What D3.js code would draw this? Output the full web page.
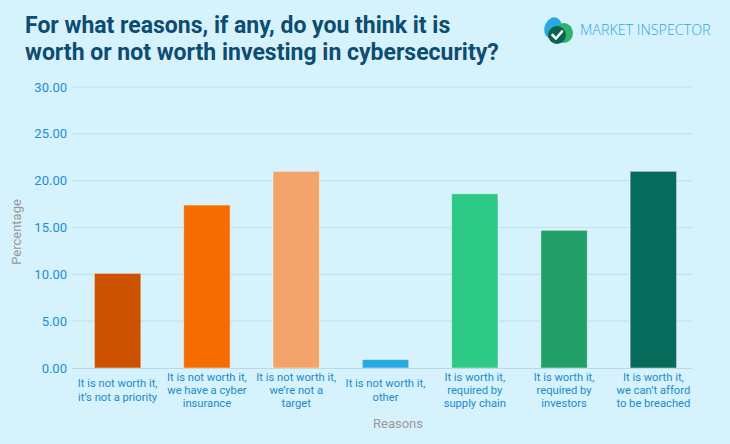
<!DOCTYPE html>
<html><head><meta charset="utf-8">
<script src="https://cdn.jsdelivr.net/npm/d3@7"></script>
<style>
html,body{margin:0;padding:0;background:#D5F2FD;}
svg{display:block;}
</style></head>
<body>
<svg id="chart" width="730" height="444"></svg>
<script>
const categories = [
  ["It is not worth it,", "it’s not a priority"],
  ["It is not worth it,", "we have a cyber", "insurance"],
  ["It is not worth it,", "we’re not a", "target"],
  ["It is not worth it,", "other"],
  ["It is worth it,", "required by", "supply chain"],
  ["It is worth it,", "required by", "investors"],
  ["It is worth it,", "we can’t afford", "to be breached"]
];
const values = [10.1, 17.4, 21.0, 0.9, 18.6, 14.7, 21.0];
const barColors = ["#CC5200", "#F56C00", "#F3A46A", "#29A9E1", "#2DCA85", "#229E69", "#066B5A"];
const yTicks = [0, 5, 10, 15, 20, 25, 30];
const titleLines = ["For what reasons, if any, do you think it is", "worth or not worth investing in cybersecurity?"];

const svg = d3.select("#chart");
svg.append("rect").attr("width", 730).attr("height", 444).attr("fill", "#D5F2FD");

const ids = categories.map((c, i) => i);
const x = d3.scaleBand().domain(ids).range([73, 698]).paddingInner(0.48).paddingOuter(0.24);
const y = d3.scaleLinear().domain([0, 30]).range([368, 87]);
const gridX0 = 72, gridX1 = 692;

// gridlines
svg.append("g").selectAll("line").data(yTicks.filter(t => t > 0)).join("line")
  .attr("x1", gridX0).attr("x2", gridX1)
  .attr("y1", d => y(d)).attr("y2", d => y(d))
  .attr("stroke", "#C1E2EF").attr("stroke-width", 1.2);

// y tick labels
svg.append("g").selectAll("text").data(yTicks).join("text")
  .attr("x", 67).attr("y", d => y(d)).attr("dy", "0.35em")
  .attr("text-anchor", "end")
  .attr("font-family", "Roboto, sans-serif").attr("font-size", 13)
  .attr("fill", "#1B8FD6")
  .text(d => d.toFixed(2));

// bars
svg.append("g").selectAll("rect").data(values).join("rect")
  .attr("x", (d, i) => x(i)).attr("width", x.bandwidth())
  .attr("y", d => y(d)).attr("height", d => y(0) - y(d))
  .attr("fill", (d, i) => barColors[i])
  .attr("stroke", "rgba(255,255,255,0.45)").attr("stroke-width", 1);

// baseline
svg.append("line").attr("x1", gridX0).attr("x2", gridX1)
  .attr("y1", y(0) + 0.5).attr("y2", y(0) + 0.5)
  .attr("stroke", "#B7D9E8").attr("stroke-width", 1.2);

// x labels
const lh = 13.3;
const xl = svg.append("g").selectAll("text").data(categories).join("text")
  .attr("text-anchor", "middle")
  .attr("font-family", "Roboto, sans-serif").attr("font-size", 11.2)
  .attr("fill", "#1A8CCB")
  .attr("transform", (d, i) => `translate(${x(i) + x.bandwidth() / 2},${390 - (d.length - 1) * lh / 2})`);
xl.selectAll("tspan").data(d => d).join("tspan")
  .attr("x", 0).attr("y", (d, i) => i * lh).attr("dy", "0.35em").text(d => d);

// axis titles
svg.append("text").attr("x", 398).attr("y", 423).attr("dy", "0.35em")
  .attr("text-anchor", "middle").attr("font-family", "Roboto, sans-serif").attr("font-size", 13)
  .attr("fill", "#9A9A9A").text("Reasons");
svg.append("text").attr("transform", "translate(16,232) rotate(-90)").attr("dy", "0.35em")
  .attr("text-anchor", "middle").attr("font-family", "Roboto, sans-serif").attr("font-size", 13)
  .attr("fill", "#9A9A9A").text("Percentage");

// title
svg.append("g").selectAll("text").data(titleLines).join("text")
  .attr("x", 25).attr("y", (d, i) => 33 + i * 27)
  .attr("font-family", "Roboto, sans-serif").attr("font-weight", 700).attr("font-size", 23)
  .attr("fill", "#0E4C70").text(d => d);

// logo
const logo = svg.append("g");
logo.append("ellipse").attr("cx", 553).attr("cy", 28).attr("rx", 8.5).attr("ry", 11)
  .attr("transform", "rotate(20,553,28)").attr("fill", "#29A9E1");
logo.append("ellipse").attr("cx", 564).attr("cy", 33).attr("rx", 9).attr("ry", 10).attr("fill", "#2DB36B");
logo.append("circle").attr("cx", 557).attr("cy", 35).attr("r", 9).attr("fill", "#0B6350");
logo.append("path").attr("d", "M552.5,35 L556,38.5 L562,31.5").attr("fill", "none")
  .attr("stroke", "#fff").attr("stroke-width", 2.6).attr("stroke-linecap", "round").attr("stroke-linejoin", "round");
logo.append("text").attr("x", 580).attr("y", 30).attr("dy", "0.35em")
  .attr("font-family", "'Open Sans', sans-serif").attr("font-weight", 300).attr("font-size", 14.3)
  .attr("fill", "#29A9E1").text("MARKET INSPECTOR");
</script>
</body></html>
